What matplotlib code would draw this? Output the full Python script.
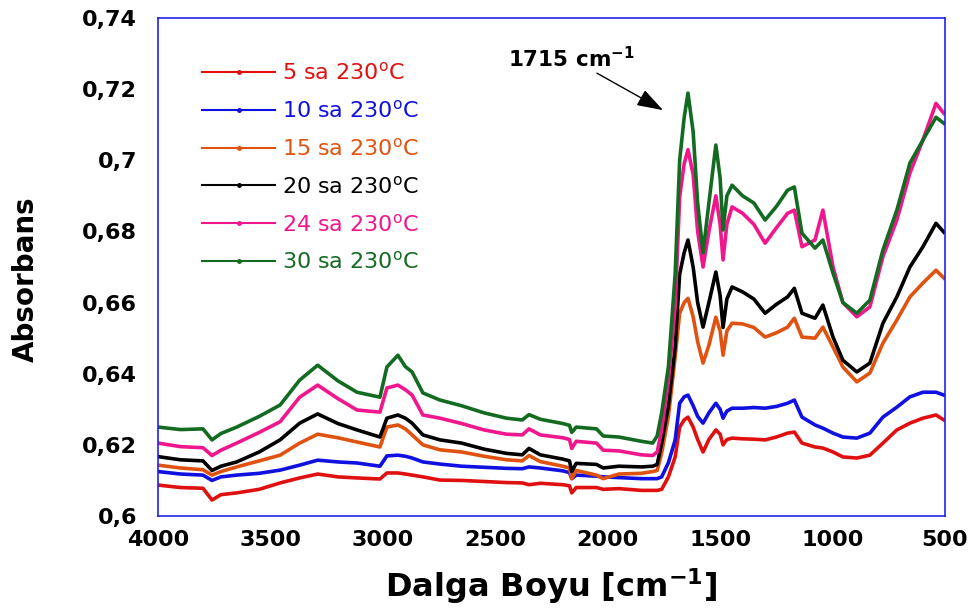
import matplotlib
matplotlib.use('Agg')
import matplotlib.pyplot as plt
from matplotlib.lines import Line2D
from matplotlib.ticker import FuncFormatter, MultipleLocator

# wavenumbers (cm-1), shared by all spectra
wn = [4000, 3900, 3800, 3760, 3720, 3650, 3550, 3457, 3370, 3290,
      3200, 3115, 3013, 2982, 2933, 2900, 2870, 2822, 2746, 2650,
      2550, 2450, 2380, 2350, 2300, 2200, 2170, 2160, 2140, 2050,
      2020, 1950, 1850, 1800, 1780, 1760, 1730, 1700, 1680, 1660,
      1643, 1620, 1600, 1576, 1550, 1519, 1500, 1487, 1470, 1447,
      1400, 1350, 1300, 1250, 1200, 1170, 1136, 1078, 1043, 998,
      954, 892, 834, 776, 714, 656, 598, 540, 505]

a5 = [.6087, .6080, .6078, .6045, .6060, .6065, .6075, .6093, .6107, .6118,
      .6110, .6107, .6104, .6121, .6121, .6118, .6115, .6110, .6101, .6100,
      .6097, .6094, .6093, .6088, .6092, .6088, .6085, .6065, .6080, .6080,
      .6075, .6077, .6072, .6072, .6072, .6075, .6110, .6166, .6250, .6270,
      .6278, .6250, .6215, .6180, .6215, .6242, .6230, .6200, .6215, .6219,
      .6217, .6216, .6214, .6222, .6233, .6236, .6205, .6194, .6191, .6180,
      .6166, .6163, .6171, .6205, .6242, .6261, .6275, .6284, .6270]

a10 = [.6125, .6118, .6115, .6100, .6110, .6115, .6120, .6129, .6143, .6157,
       .6152, .6149, .6140, .6169, .6171, .6168, .6163, .6152, .6146, .6140,
       .6137, .6134, .6133, .6138, .6135, .6127, .6122, .6105, .6115, .6112,
       .6110, .6108, .6105, .6105, .6105, .6110, .6150, .6214, .6317, .6335,
       .6340, .6310, .6280, .6261, .6290, .6317, .6300, .6275, .6295, .6303,
       .6303, .6305, .6303, .6308, .6317, .6326, .6278, .6256, .6247, .6233,
       .6222, .6219, .6233, .6278, .6306, .6335, .6348, .6348, .6340]

a15 = [.6143, .6135, .6130, .6115, .6125, .6138, .6155, .6171, .6205, .6230,
       .6220, .6208, .6194, .6250, .6256, .6245, .6228, .6200, .6186, .6180,
       .6168, .6158, .6155, .6170, .6153, .6140, .6135, .6105, .6128, .6115,
       .6105, .6118, .6120, .6125, .6128, .6177, .6280, .6447, .6570, .6600,
       .6612, .6560, .6490, .6430, .6480, .6559, .6520, .6452, .6520, .6542,
       .6540, .6530, .6503, .6515, .6531, .6556, .6503, .6500, .6531, .6475,
       .6419, .6377, .6402, .6486, .6551, .6616, .6655, .6691, .6669]

a20 = [.6167, .6158, .6155, .6128, .6140, .6152, .6180, .6214, .6261, .6287,
       .6260, .6242, .6222, .6275, .6284, .6275, .6261, .6228, .6214, .6205,
       .6188, .6176, .6172, .6190, .6172, .6160, .6155, .6125, .6148, .6145,
       .6135, .6140, .6138, .6140, .6145, .6205, .6310, .6475, .6680, .6740,
       .6776, .6700, .6600, .6531, .6600, .6686, .6620, .6530, .6610, .6644,
       .6630, .6610, .6570, .6595, .6616, .6640, .6570, .6556, .6593, .6503,
       .6438, .6405, .6430, .6542, .6616, .6700, .6757, .6823, .6798]

a24 = [.6205, .6195, .6192, .6170, .6185, .6205, .6235, .6265, .6334, .6368,
       .6330, .6298, .6292, .6360, .6368, .6355, .6340, .6284, .6275, .6260,
       .6242, .6230, .6228, .6245, .6228, .6220, .6215, .6190, .6210, .6205,
       .6185, .6183, .6172, .6170, .6180, .6242, .6380, .6588, .6897, .6990,
       .7030, .6960, .6800, .6700, .6800, .6900, .6820, .6720, .6820, .6869,
       .6851, .6820, .6767, .6810, .6851, .6860, .6757, .6776, .6860, .6700,
       .6600, .6560, .6588, .6729, .6832, .6964, .7057, .7160, .7132]

a30 = [.6250, .6243, .6245, .6214, .6232, .6250, .6280, .6312, .6382, .6424,
       .6380, .6348, .6334, .6419, .6452, .6420, .6405, .6346, .6326, .6310,
       .6290, .6275, .6270, .6285, .6272, .6260, .6255, .6235, .6250, .6245,
       .6225, .6222, .6210, .6205, .6225, .6290, .6420, .6680, .7000, .7120,
       .7189, .7080, .6880, .6740, .6880, .7043, .6950, .6804, .6900, .6930,
       .6900, .6880, .6832, .6870, .6916, .6925, .6795, .6753, .6776, .6683,
       .6600, .6570, .6607, .6748, .6860, .6992, .7057, .7121, .7104]

labels = ['5 sa 230$^{\\mathrm{o}}$C', '10 sa 230$^{\\mathrm{o}}$C',
          '15 sa 230$^{\\mathrm{o}}$C', '20 sa 230$^{\\mathrm{o}}$C',
          '24 sa 230$^{\\mathrm{o}}$C', '30 sa 230$^{\\mathrm{o}}$C']
colors = ['#e01010', '#1010e0', '#e0520f', '#000000', '#f0168c', '#136b22']
series = [a5, a10, a15, a20, a24, a30]

plt.rcParams['font.family'] = ['DejaVu Sans']
plt.rcParams['mathtext.fontset'] = 'dejavusans'

fig = plt.figure(figsize=(9.73, 6.09), dpi=100)
ax = fig.add_axes([0.1624, 0.1527, 0.8088, 0.8177])

for y, c in zip(series, colors):
    ax.plot(wn, y, color=c, lw=2.6)

ax.set_xlim(4000, 500)
ax.set_ylim(0.6, 0.74)
ax.xaxis.set_major_locator(MultipleLocator(500))
ax.yaxis.set_major_locator(MultipleLocator(0.02))
ax.yaxis.set_major_formatter(FuncFormatter(lambda v, p: f'{v:g}'.replace('.', ',')))
ax.tick_params(axis='both', length=0, labelsize=16)
ax.tick_params(axis='y', pad=15)
ax.tick_params(axis='x', pad=10)
for t in ax.get_xticklabels() + ax.get_yticklabels():
    t.set_fontweight('bold')

for s in ax.spines.values():
    s.set_color('#2222e8')
    s.set_linewidth(1.2)

ax.set_xlabel('Dalga Boyu [cm$^{\\mathbf{-1}}$]', fontsize=23, fontweight='bold')
ax.xaxis.set_label_coords(0.5, -0.10)
ax.set_ylabel('Absorbans', fontsize=20, fontweight='bold')
ax.yaxis.set_label_coords(-0.150, 0.476)

# legend: thin lines with a dot in the middle, coloured text
handles = [Line2D([], [], color=c, lw=1.5, marker='o', markersize=2.5) for c in colors]
leg = ax.legend(handles, labels, loc='upper left', bbox_to_anchor=(0.056, 0.912),
                frameon=False, fontsize=16, handlelength=3.3, handletextpad=0.3,
                labelspacing=0.71, borderpad=0, borderaxespad=0, numpoints=1,
                labelcolor='linecolor')

# peak annotation
ax.text(2443, 0.7262, '1715 cm$^{\\mathbf{-1}}$', fontsize=15.5, fontweight='bold',
        ha='left', va='baseline')
ax.annotate('', xy=(1754, 0.7141), xytext=(2048, 0.7245),
            arrowprops=dict(arrowstyle='-|>,head_length=0.9,head_width=0.3',
                            color='black', lw=1.0, shrinkA=0, shrinkB=0,
                            mutation_scale=18))

fig.savefig('out.png', dpi=100)
